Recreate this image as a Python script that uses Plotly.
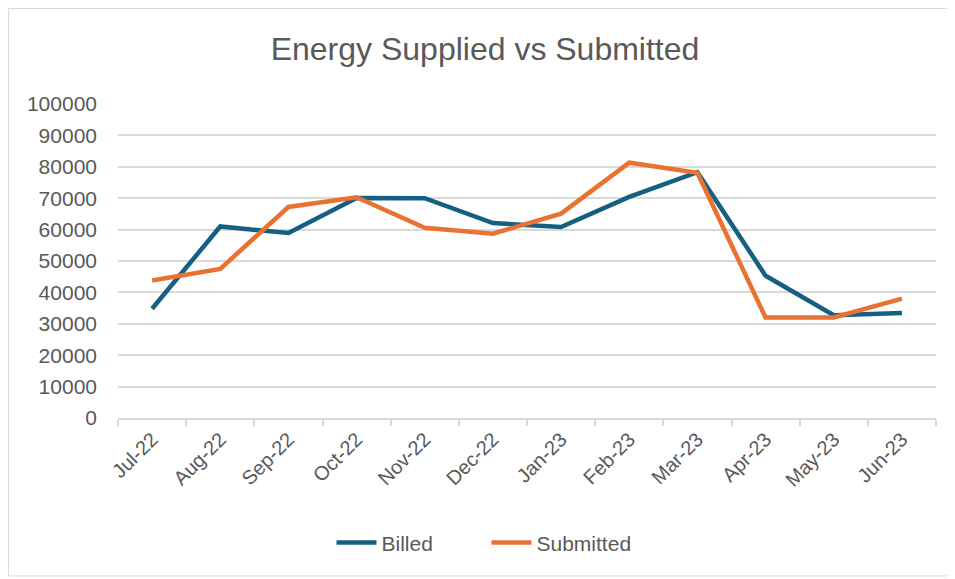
import plotly.graph_objects as go

months = ["Jul-22", "Aug-22", "Sep-22", "Oct-22", "Nov-22", "Dec-22",
          "Jan-23", "Feb-23", "Mar-23", "Apr-23", "May-23", "Jun-23"]
billed = [34800, 61000, 58900, 70100, 70000, 62100, 60800, 70400, 78300, 45300, 32700, 33400]
submitted = [43800, 47500, 67200, 70300, 60600, 58700, 65100, 81300, 78100, 32000, 32000, 38000]

FONT = "Liberation Sans, Arial, sans-serif"
GREY = "#595959"

fig = go.Figure()
fig.add_trace(go.Scatter(x=months, y=billed, mode="lines", name="Billed",
                         line=dict(color="#156082", width=4.5)))
fig.add_trace(go.Scatter(x=months, y=submitted, mode="lines", name="Submitted",
                         line=dict(color="#E97132", width=4.5)))

# page has an 8px body margin; plot area in page coords: x 118-936, y 104-418
fig.update_layout(
    width=947, height=571,
    margin=dict(l=110, r=19, t=96, b=161),
    paper_bgcolor="white", plot_bgcolor="white",
    font=dict(family=FONT, color=GREY, size=20),
    title=dict(text="Energy Supplied vs Submitted", x=0.5037, xanchor="center",
               y=0.928, yanchor="middle",
               font=dict(family=FONT, size=32, color=GREY)),
    showlegend=True,
    legend=dict(orientation="h", x=0.4505, xanchor="center", y=-0.398, yanchor="middle",
                font=dict(size=21, color=GREY), traceorder="normal",
                itemwidth=40, entrywidth=100, entrywidthmode="pixels", tracegroupgap=0),
    xaxis=dict(type="category", tickangle=-45, tickson="boundaries",
               ticks="outside", ticklen=6, tickcolor="#d9d9d9", tickwidth=1.5,
               showline=True, linecolor="#d9d9d9", linewidth=1.5,
               showgrid=False, tickfont=dict(size=20, color=GREY), range=[-0.5, 11.5]),
    yaxis=dict(range=[0, 100000], dtick=10000, showgrid=True, gridcolor="#d9d9d9",
               gridwidth=1.5, zeroline=False, tickformat="d",
               tickfont=dict(size=21, color=GREY), ticks="", ticklabelstandoff=20),
    shapes=[dict(type="rect", xref="paper", yref="paper",
                 x0=-0.1339, x1=1.0196, y0=-0.503, y1=1.304,
                 line=dict(color="#d9d9d9", width=1), layer="below")],
)

fig.write_html("out.html")
